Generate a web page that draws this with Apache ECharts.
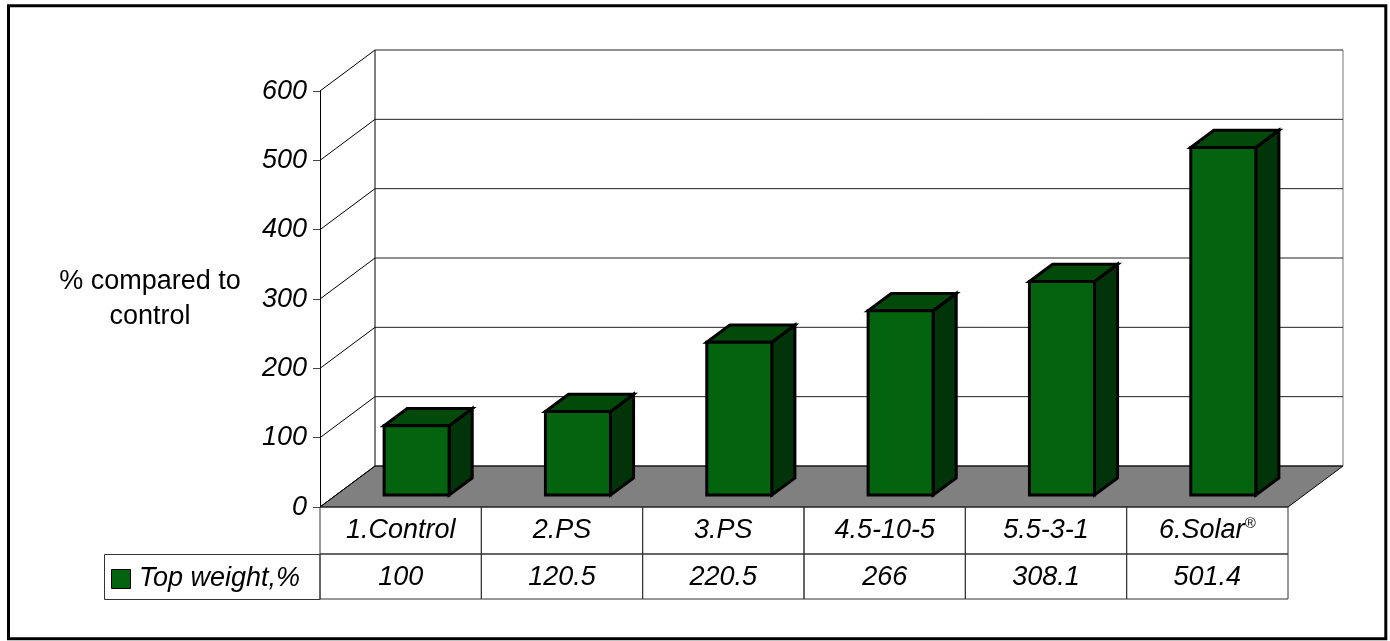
<!DOCTYPE html>
<html>
<head>
<meta charset="utf-8">
<script src="https://cdn.jsdelivr.net/npm/echarts@6/dist/echarts.min.js"></script>
<style>
  html, body { margin: 0; padding: 0; background: #fff; }
  #main { width: 1390px; height: 641px; }
</style>
</head>
<body>
<div id="main"></div>
<script>
// data
var categories = ['1.Control', '2.PS', '3.PS', '4.5-10-5', '5.5-3-1', '6.Solar'];
var topWeight = [100, 120.5, 220.5, 266, 308.1, 501.4];
var seriesName = 'Top weight,%';
var yTicks = [0, 100, 200, 300, 400, 500, 600];

// look
var FONT = '"Liberation Sans", Arial, sans-serif';
var DX = 55, DY = -41;          // depth of the 3d box
var GREEN = '#03630f', GREEN_TOP = '#024a0a', GREEN_SIDE = '#013408';
var ROW1 = 47, ROW2 = 45;       // table rows under the floor

var chart = echarts.init(document.getElementById('main'));

function wallItem(params, api) {
  var cs = params.coordSys;
  var v = api.value(1);
  var y = api.coord([0, v])[1];
  var x0 = cs.x, x1 = cs.x + cs.width;
  var kids = [];
  if (params.dataIndex === 0) {
    var yTop = api.coord([0, yTicks[yTicks.length - 1]])[1];
    kids.push({
      type: 'polygon',
      shape: { points: [[x0, y], [x1, y], [x1 + DX, y + DY], [x0 + DX, y + DY]] },
      style: { fill: '#808080', stroke: '#000', lineWidth: 1 }
    });
    kids.push({ type: 'line', shape: { x1: x0 + DX, y1: yTop + DY, x2: x0 + DX, y2: y + DY },
      style: { stroke: '#000', lineWidth: 1 } });
    kids.push({ type: 'line', shape: { x1: x1 + DX, y1: yTop + DY, x2: x1 + DX, y2: y + DY },
      style: { stroke: '#777', lineWidth: 1 } });
  }
  kids.push({ type: 'line', shape: { x1: x0, y1: y, x2: x0 + DX, y2: y + DY },
    style: { stroke: '#000', lineWidth: 1 } });
  kids.push({ type: 'line', shape: { x1: x0 + DX, y1: y + DY, x2: x1 + DX, y2: y + DY },
    style: { stroke: '#222', lineWidth: 1 } });
  return { type: 'group', children: kids };
}

function barItem(params, api) {
  var idx = api.value(0);
  var base = api.coord([idx, 0]);
  var top = api.coord([idx, api.value(1)]);
  var bw = api.size([1, 0])[0] * 0.403;
  var fx = DX * 0.29, fy = DY * 0.29;
  var dx = DX * 0.42, dy = DY * 0.42;
  var xl = base[0] + fx - bw / 2, xr = xl + bw;
  var yb = base[1] + fy, yt = top[1] + fy;
  var st = { stroke: '#000', lineWidth: 3, lineJoin: 'miter' };
  return {
    type: 'group',
    children: [
      { type: 'polygon', shape: { points: [[xr, yt], [xr + dx, yt + dy], [xr + dx, yb + dy], [xr, yb]] },
        style: Object.assign({ fill: GREEN_SIDE }, st) },
      { type: 'polygon', shape: { points: [[xl, yt], [xl + dx, yt + dy], [xr + dx, yt + dy], [xr, yt]] },
        style: Object.assign({ fill: GREEN_TOP }, st) },
      { type: 'polygon', shape: { points: [[xl, yt], [xr, yt], [xr, yb], [xl, yb]] },
        style: Object.assign({ fill: GREEN }, st) }
    ]
  };
}

function tableItem(params, api) {
  var idx = api.value(0);
  var base = api.coord([idx, 0]);
  var w = api.size([1, 0])[0];
  var x = base[0] - w / 2, y = base[1];
  return {
    type: 'group',
    children: [
      { type: 'rect', shape: { x: x, y: y, width: w, height: ROW1 },
        style: { fill: 'none', stroke: '#333', lineWidth: 1 } },
      { type: 'rect', shape: { x: x, y: y + ROW1, width: w, height: ROW2 },
        style: { fill: 'none', stroke: '#333', lineWidth: 1 } },
      { type: 'text', style: { text: String(api.value(1)), x: base[0], y: y + ROW1 + ROW2 / 2 + 1,
        align: 'center', verticalAlign: 'middle', fill: '#000',
        font: 'italic 27px ' + FONT } }
    ]
  };
}

var option = {
  animation: false,
  backgroundColor: '#fff',
  grid: { left: 320, right: 102, top: 91, bottom: 134 },
  xAxis: {
    type: 'category',
    data: categories,
    axisLine: { show: false },
    axisTick: { show: false },
    axisLabel: {
      interval: 0,
      hideOverlap: false,
      margin: 23,
      verticalAlign: 'middle',
      fontFamily: FONT, fontSize: 27, fontStyle: 'italic', color: '#000',
      formatter: function (v) { return v === '6.Solar' ? v + '{s|®}' : v; },
      rich: { s: { fontSize: 15, fontFamily: FONT, color: '#000', verticalAlign: 'top', padding: [0, 0, 12, 0] } }
    }
  },
  yAxis: {
    type: 'value',
    min: 0, max: 600, interval: 100,
    name: '% compared to\ncontrol',
    nameLocation: 'middle',
    nameRotate: 0,
    nameGap: 170,
    nameTextStyle: { fontFamily: FONT, fontSize: 27, color: '#000', lineHeight: 35, align: 'center' },
    axisLine: { show: true, lineStyle: { color: '#000', width: 1 } },
    axisTick: { show: true, length: 7, lineStyle: { color: '#444' } },
    axisLabel: { margin: 13, fontFamily: FONT, fontSize: 27, fontStyle: 'italic', color: '#000' },
    splitLine: { show: false }
  },
  series: [
    { type: 'custom', name: 'walls', silent: true, renderItem: wallItem,
      data: yTicks.map(function (v) { return [0, v]; }), z: 1 },
    { type: 'custom', name: 'table', silent: true, renderItem: tableItem,
      data: topWeight.map(function (v, i) { return [i, v]; }), z: 1 },
    { type: 'custom', name: seriesName, renderItem: barItem,
      data: topWeight.map(function (v, i) { return [i, v]; }), z: 3 }
  ],
  graphic: [
    { type: 'rect', shape: { x: 8.5, y: 5.8, width: 1377.3, height: 632.9 },
      style: { fill: 'none', stroke: '#000', lineWidth: 3 }, z: 10 },
    { type: 'rect', shape: { x: 104.5, y: 554.5, width: 215.5, height: 45 },
      style: { fill: 'none', stroke: '#333', lineWidth: 1 } },
    { type: 'rect', shape: { x: 111.5, y: 569.5, width: 19, height: 19 },
      style: { fill: GREEN, stroke: '#000', lineWidth: 1 } },
    { type: 'text', style: { text: seriesName, x: 139, y: 578, verticalAlign: 'middle',
      font: 'italic 27px ' + FONT, fill: '#000' } }
  ]
};

chart.setOption(option);
</script>
</body>
</html>
